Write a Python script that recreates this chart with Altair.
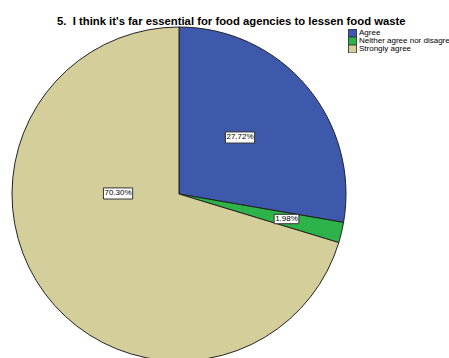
import altair as alt
import pandas as pd
import math

categories = ["Agree", "Neither agree nor disagree", "Strongly agree"]
values = [27.72, 1.98, 70.30]
labels = ["27.72%", "1.98%", "70.30%"]
colors = ["#3E58AC", "#2DB34A", "#D4CF9A"]
label_angle_deg = [47.2, 103.1, 270.5]
label_radius_frac = [0.498, 0.661, 0.365]

df = pd.DataFrame({"category": categories, "value": values, "idx": [0, 1, 2]})

lab = pd.DataFrame({
    "label": labels,
    "lx": [f * math.sin(math.radians(a)) for a, f in zip(label_angle_deg, label_radius_frac)],
    "ly": [f * math.cos(math.radians(a)) for a, f in zip(label_angle_deg, label_radius_frac)],
    "w": [len(s) * 4.45 + 2.5 for s in labels],
})
lab["sz"] = lab["w"] ** 2

CX, CY, R = 179, 169, 167

pie = alt.Chart(df).mark_arc(stroke="#222222", strokeWidth=1, radius=R).encode(
    theta=alt.Theta("value:Q", stack=True),
    order=alt.Order("idx:Q"),
    color=alt.Color(
        "category:N",
        scale=alt.Scale(domain=categories, range=colors),
        legend=alt.Legend(
            title=None, orient="none", legendX=348, legendY=4,
            symbolType="square", symbolSize=64, symbolStrokeColor="#222222",
            symbolStrokeWidth=0.8, labelFontSize=8, labelFont="Liberation Sans",
            labelColor="#000000", rowPadding=0, labelOffset=2, labelLimit=300,
            symbolOpacity=1, clipHeight=8,
        ),
    ),
    x=alt.value(CX),
    y=alt.value(CY),
)

xs = alt.Scale(domain=[-1, 1], range=[CX - R, CX + R])
ys = alt.Scale(domain=[-1, 1], range=[CY + R, CY - R])

box = alt.Chart(lab).mark_point(
    shape="M-1,-0.38L1,-0.38L1,0.38L-1,0.38Z", filled=True, fill="white",
    stroke="#333333", strokeWidth=1, opacity=1,
).encode(
    x=alt.X("lx:Q", scale=xs, axis=None),
    y=alt.Y("ly:Q", scale=ys, axis=None),
    size=alt.Size("sz:Q", scale=None, legend=None),
)

txt = alt.Chart(lab).mark_text(
    font="Liberation Sans", fontSize=8, color="#000000", baseline="middle", align="center"
).encode(
    x=alt.X("lx:Q", scale=xs, axis=None),
    y=alt.Y("ly:Q", scale=ys, axis=None),
    text="label:N",
)

chart = alt.layer(pie, box, txt).properties(
    width=449, height=333,
    autosize=alt.AutoSizeParams(type="none"),
    padding={"left": 0, "top": 25, "right": 0, "bottom": 0},
    title=alt.TitleParams(
        "5.\u00a0 I think it's far essential for food agencies to lessen food waste",
        font="Liberation Sans", fontSize=11.3, fontWeight="bold", color="#000000",
        anchor="start", frame="group", dx=57, offset=-2,
    ),
).configure_view(stroke=None)

chart.save("out.html", embed_options={"renderer": "svg", "actions": False})
